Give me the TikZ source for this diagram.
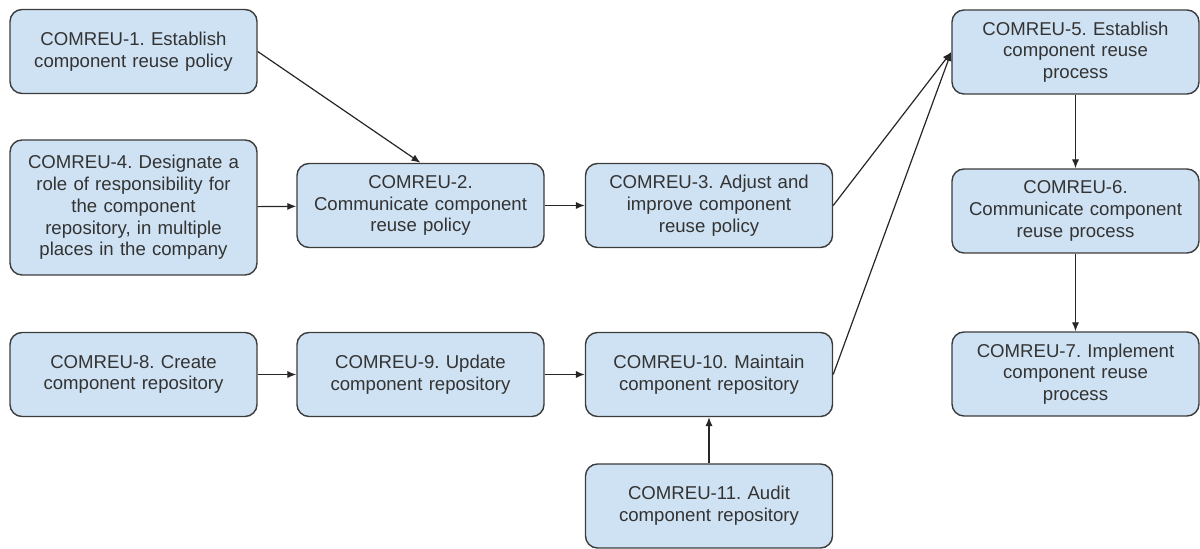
\documentclass[tikz,border=0pt]{standalone}
\usepackage{fontspec}
\setmainfont{Liberation Sans}
\usetikzlibrary{arrows.meta}
\definecolor{boxblue}{HTML}{CFE2F3}
\definecolor{boxline}{HTML}{3C3C3C}
\frenchspacing

\begin{document}
\begin{tikzpicture}[x=0.5pt, y=-0.5pt,
            every node/.style={draw=boxline, fill=boxblue, rounded corners=6pt,
                line width=0.7pt, minimum width=123.5pt, minimum height=42pt,
                text width=118pt, align=center, inner sep=2pt, text=black!80,
                font=\fontsize{9.3}{10.9}\selectfont\frenchspacing},
            tall/.style={minimum height=67.5pt},
            link/.style={-{Latex[length=4.5pt,width=3.6pt]}, line width=0.6pt, draw=black!85},
            ]
            \useasboundingbox (0,0) rectangle (1200,549);

            \node (c1) at (133.5,51.5) {COMREU-1. Establish\\component reuse policy};
            \node[tall] (c4) at (133.5,207.5) {COMREU-4. Designate a\\role of responsibility for\\the component\\repository, in multiple\\places in the company};
            \node (c2) at (420.5,205.5) {COMREU-2.\\Communicate component\\reuse policy};
            \node (c3) at (709,205.5) {COMREU-3. Adjust and\\improve component\\reuse policy};
            \node (c5) at (1075.5,52) {COMREU-5. Establish\\component reuse\\process};
            \node (c6) at (1075.5,211) {COMREU-6.\\Communicate component\\reuse process};
            \node (c7) at (1075.5,374) {COMREU-7. Implement\\component reuse\\process};
            \node (c8) at (133.5,374.5) {COMREU-8. Create\\component repository};
            \node (c9) at (420.5,374.5) {COMREU-9. Update\\component repository};
            \node (c10) at (709,374.5) {COMREU-10. Maintain\\component repository};
            \node (c11) at (709,506) {COMREU-11. Audit\\component repository};

            \draw[link] (c1.east) -- (c2.north);
            \draw[link] (c4) -- (c2);
            \draw[link] (c2) -- (c3);
            \draw[link] (c3.east) -- (c5.west);
            \draw[link] (c10.east) -- (c5.west);
            \draw[link] (c5) -- (c6);
            \draw[link] (c6) -- (c7);
            \draw[link] (c8) -- (c9);
            \draw[link] (c9) -- (c10);
            \draw[link] (c11) -- (c10);
        \end{tikzpicture}
\end{document}
